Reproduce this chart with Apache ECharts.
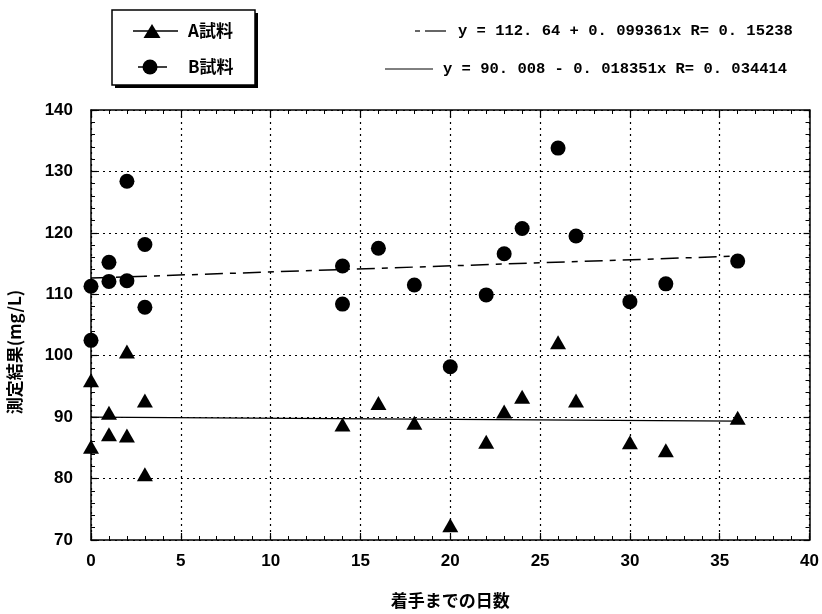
<!DOCTYPE html>
<html>
<head>
<meta charset="utf-8">
<script src="https://cdn.jsdelivr.net/npm/echarts@6/dist/echarts.min.js"></script>
<style>
  html, body { margin: 0; padding: 0; background: #fff; }
  #chart { width: 822px; height: 614px; }
</style>
</head>
<body>
<div id="chart"></div>
<script>
// A試料
var daysA = [0, 0, 1, 1, 2, 2, 3, 3, 14, 16, 18, 20, 22, 23, 24, 26, 27, 30, 32, 36];
var valA = [96.0, 85.2, 90.7, 87.2, 100.7, 87.0, 92.7, 80.7, 88.8, 92.3, 89.1, 72.4, 86.0, 90.9, 93.3, 102.2, 92.7, 85.9, 84.6, 89.9];
// B試料
var daysB = [0, 0, 1, 1, 2, 2, 3, 3, 14, 14, 16, 18, 20, 22, 23, 24, 26, 27, 30, 32, 36];
var valB = [111.3, 102.5, 115.2, 112.1, 128.4, 112.2, 118.1, 107.9, 114.6, 108.4, 117.5, 111.5, 98.2, 109.9, 116.6, 120.7, 133.8, 119.5, 108.8, 111.7, 115.4];
// 回帰直線 (両端)
var fitX = [0, 36];
var fitA = [90.01, 89.35];
var fitB = [112.64, 116.22];

var eqB = 'y = 112. 64 + 0. 099361x R= 0. 15238';
var eqA = 'y = 90. 008 - 0. 018351x R= 0. 034414';

function pairs(xs, ys) {
    return xs.map(function (x, i) { return [x, ys[i]]; });
}

var numFont = '"Liberation Sans", sans-serif';
var monoFont = '"Liberation Mono", "DejaVu Sans Mono", monospace';
var jpFont = '"Noto Sans CJK JP", sans-serif';

var chart = echarts.init(document.getElementById('chart'));

function xAxisCfg(pos, labels) {
    return {
        type: 'value', position: pos, min: 0, max: 40, interval: 5,
        axisLine: { show: true, onZero: false, lineStyle: { color: '#000', width: 1.5 } },
        axisTick: { show: true, inside: true, length: 7, lineStyle: { color: '#000', width: 1.2 } },
        minorTick: { show: true, splitNumber: 5, length: 4, lineStyle: { color: '#000', width: 1 } },
        splitLine: { show: labels, lineStyle: { color: '#000', type: [2, 4], width: 1.2 } },
        axisLabel: { show: labels, margin: 13, color: '#000', fontFamily: numFont, fontWeight: 'bold', fontSize: 17 }
    };
}
function yAxisCfg(pos, labels) {
    return {
        type: 'value', position: pos, min: 70, max: 140, interval: 10,
        axisLine: { show: true, onZero: false, lineStyle: { color: '#000', width: 1.5 } },
        axisTick: { show: true, inside: true, length: 6, lineStyle: { color: '#000', width: 1.2 } },
        minorTick: { show: true, splitNumber: 5, length: 4, lineStyle: { color: '#000', width: 1 } },
        splitLine: { show: labels, lineStyle: { color: '#000', type: [2, 4], width: 1.2 } },
        axisLabel: { show: labels, margin: 18, color: '#000', fontFamily: numFont, fontWeight: 'bold', fontSize: 17 }
    };
}

var xb = xAxisCfg('bottom', true);
xb.name = '着手までの日数';
xb.nameLocation = 'middle';
xb.nameGap = 52;
xb.nameTextStyle = { color: '#000', fontFamily: jpFont, fontWeight: 'bold', fontSize: 17 };

var option = {
    backgroundColor: '#fff',
    animation: false,
    grid: { left: 91, right: 9, top: 110, bottom: 71 },
    xAxis: [xb, xAxisCfg('top', false)],
    yAxis: [yAxisCfg('left', true), yAxisCfg('right', false)],
    series: [
        {
            name: 'A試料', type: 'scatter', data: pairs(daysA, valA),
            symbol: 'triangle', symbolSize: [16, 14],
            itemStyle: { color: '#000', opacity: 1 }, z: 5
        },
        {
            name: 'B試料', type: 'scatter', data: pairs(daysB, valB),
            symbol: 'circle', symbolSize: 15,
            itemStyle: { color: '#000', opacity: 1 }, z: 5
        },
        {
            name: 'fitB', type: 'line', data: pairs(fitX, fitB), symbol: 'none',
            lineStyle: { color: '#000', width: 1.5, type: [18, 7, 6, 7] }, z: 4
        },
        {
            name: 'fitA', type: 'line', data: pairs(fitX, fitA), symbol: 'none',
            lineStyle: { color: '#000', width: 1.2 }, z: 4
        }
    ],
    graphic: [
        // 凡例の枠
        { type: 'rect', shape: { x: 115, y: 13, width: 143, height: 75 }, style: { fill: '#000' } },
        { type: 'rect', shape: { x: 112, y: 10, width: 143, height: 75 }, style: { fill: '#fff', stroke: '#000', lineWidth: 1.5 } },
        { type: 'line', shape: { x1: 133, y1: 31, x2: 178, y2: 31 }, style: { stroke: '#000', lineWidth: 1.5 } },
        { type: 'polygon', shape: { points: [[152, 24], [143.5, 38], [160.5, 38]] }, style: { fill: '#000' } },
        { type: 'text', x: 188, y: 31, style: { text: 'A試料', font: 'bold 17px ' + jpFont, fill: '#000', verticalAlign: 'middle' } },
        { type: 'line', shape: { x1: 138, y1: 67, x2: 167, y2: 67 }, style: { stroke: '#000', lineWidth: 1.5 } },
        { type: 'circle', shape: { cx: 150, cy: 67, r: 7.5 }, style: { fill: '#000' } },
        { type: 'text', x: 188, y: 67, style: { text: 'B試料', font: 'bold 17px ' + jpFont, fill: '#000', verticalAlign: 'middle' } },
        // 回帰式
        { type: 'line', shape: { x1: 415, y1: 31, x2: 420, y2: 31 }, style: { stroke: '#000', lineWidth: 1.2 } },
        { type: 'line', shape: { x1: 425, y1: 31, x2: 446, y2: 31 }, style: { stroke: '#000', lineWidth: 1.2 } },
        { type: 'text', x: 458, y: 31, style: { text: eqB, font: 'bold 15.5px ' + monoFont, fill: '#000', verticalAlign: 'middle' } },
        { type: 'line', shape: { x1: 385, y1: 69, x2: 433, y2: 69 }, style: { stroke: '#000', lineWidth: 1 } },
        { type: 'text', x: 443, y: 69, style: { text: eqA, font: 'bold 15.5px ' + monoFont, fill: '#000', verticalAlign: 'middle' } },
        // 縦軸名
        {
            type: 'text', x: 15, y: 352, rotation: Math.PI / 2,
            style: { text: '測定結果(mg/L)', font: 'bold 17px ' + jpFont, fill: '#000', align: 'center', verticalAlign: 'middle' }
        }
    ]
};

chart.setOption(option);
</script>
</body>
</html>
